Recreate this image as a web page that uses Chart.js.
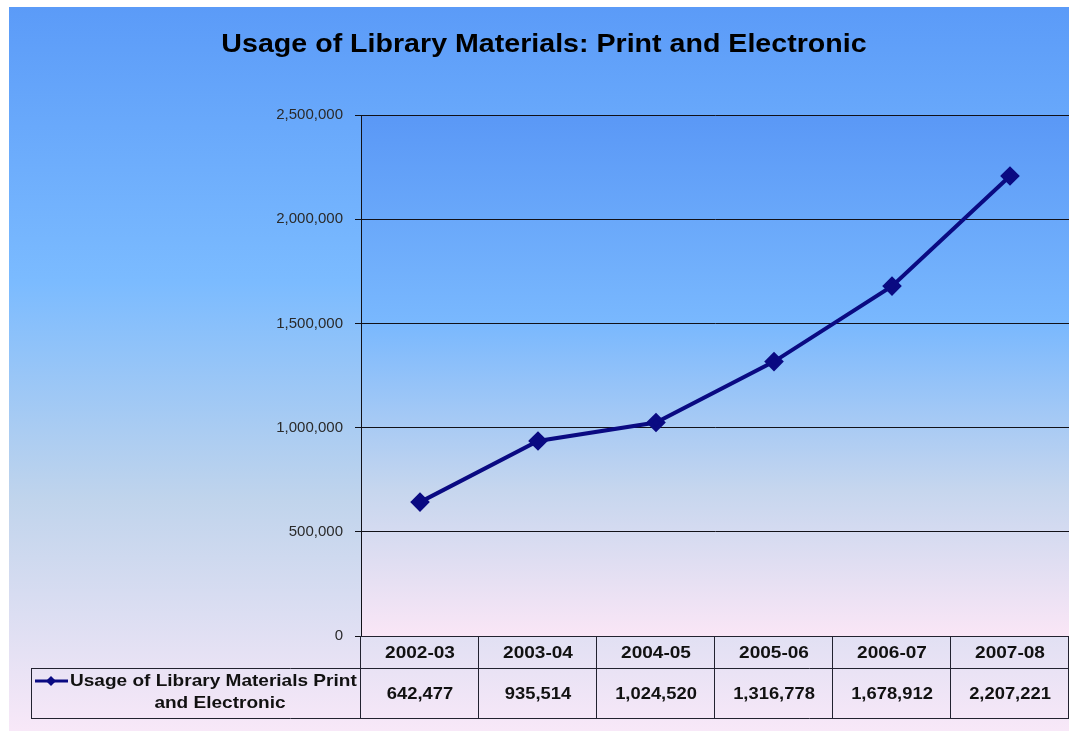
<!DOCTYPE html>
<html>
<head>
<meta charset="utf-8">
<title>Usage of Library Materials</title>
<script src="https://cdn.jsdelivr.net/npm/chart.js@4"></script>
<style>
  html, body { margin: 0; padding: 0; background: #fff; overflow: hidden; }
  #wrap { width: 1069px; height: 731px; position: relative; }
  canvas { display: block; }
</style>
</head>
<body>
<div id="wrap"><canvas id="usageChart"></canvas></div>
<script>
// data
const years = ['2002-03', '2003-04', '2004-05', '2005-06', '2006-07', '2007-08'];
const usage = [642477, 935514, 1024520, 1316778, 1678912, 2207221];
const seriesName = 'Usage of Library Materials Print and Electronic';
const legendLines = ['Usage of Library Materials Print', 'and Electronic'];
const chartTitle = 'Usage of Library Materials: Print and Electronic';

const navy = '#0A0A82';
const fmt = v => v.toLocaleString('en-US');
const FONT = '"Liberation Sans", Arial, sans-serif';

// text a bit wider than normal, like the original picture
function wideText(ctx, txt, x, y, sx) {
    ctx.save();
    ctx.translate(x, y);
    ctx.scale(sx, 1);
    ctx.fillText(txt, 0, 0);
    ctx.restore();
}

// background + plot area gradients
const bgPlugin = {
    id: 'bg',
    beforeDraw(chart) {
        const ctx = chart.ctx;
        const a = chart.chartArea;
        ctx.save();
        let g = ctx.createLinearGradient(0, 7, 0, 731);
        g.addColorStop(0, '#5B9BF8');
        g.addColorStop(0.38, '#7BBBFF');
        g.addColorStop(0.68, '#C0D4EC');
        g.addColorStop(1, '#F8E8F8');
        ctx.fillStyle = g;
        ctx.fillRect(9, 7, 1060, 724);
        g = ctx.createLinearGradient(0, a.top, 0, a.bottom);
        g.addColorStop(0, '#5A98F6');
        g.addColorStop(0.4, '#79B8FE');
        g.addColorStop(0.72, '#C6D6EE');
        g.addColorStop(1, '#FAE6F6');
        ctx.fillStyle = g;
        ctx.fillRect(a.left, a.top, a.right - a.left, a.bottom - a.top);
        // title
        ctx.fillStyle = '#000';
        ctx.font = 'bold 26px ' + FONT;
        ctx.textAlign = 'center';
        ctx.textBaseline = 'middle';
        wideText(ctx, chartTitle, 544, 45, 1.1);
        ctx.restore();
    }
};

// data table under the plot, columns taken from the x scale
const tablePlugin = {
    id: 'dataTable',
    afterDraw(chart) {
        const ctx = chart.ctx;
        const x = chart.scales.x;
        const a = chart.chartArea;
        const colW = (a.right - a.left) / years.length;
        const top = a.bottom, mid = a.bottom + 32, bot = a.bottom + 82;
        const legLeft = 31;
        ctx.save();
        ctx.strokeStyle = '#222230';
        ctx.lineWidth = 1;
        ctx.beginPath();
        ctx.moveTo(a.left, top + 0.5); ctx.lineTo(a.right, top + 0.5);
        ctx.moveTo(legLeft, mid + 0.5); ctx.lineTo(a.right, mid + 0.5);
        ctx.moveTo(legLeft, bot + 0.5); ctx.lineTo(a.right, bot + 0.5);
        ctx.moveTo(legLeft + 0.5, mid); ctx.lineTo(legLeft + 0.5, bot);
        for (let i = 0; i <= years.length; i++) {
            const cx = Math.round(a.left + i * colW) - 0.5;
            ctx.moveTo(cx, top); ctx.lineTo(cx, bot);
        }
        ctx.stroke();

        ctx.fillStyle = '#111';
        ctx.font = 'bold 17px ' + FONT;
        ctx.textAlign = 'center';
        ctx.textBaseline = 'middle';
        years.forEach((y, i) => {
            const cx = x.getPixelForValue(i);
            wideText(ctx, y, cx, (top + mid) / 2 + 1, 1.12);
            wideText(ctx, fmt(usage[i]), cx, (mid + bot) / 2 + 1, 1.08);
        });

        // legend key
        const ky = mid + 13;
        ctx.strokeStyle = navy;
        ctx.lineWidth = 3;
        ctx.beginPath();
        ctx.moveTo(35, ky); ctx.lineTo(68, ky);
        ctx.stroke();
        ctx.fillStyle = navy;
        ctx.beginPath();
        ctx.moveTo(51, ky - 5); ctx.lineTo(56, ky); ctx.lineTo(51, ky + 5); ctx.lineTo(46, ky);
        ctx.closePath();
        ctx.fill();
        ctx.fillStyle = '#111';
        ctx.font = 'bold 17px ' + FONT;
        ctx.textAlign = 'left';
        wideText(ctx, legendLines[0], 70, ky, 1.12);
        ctx.textAlign = 'center';
        wideText(ctx, legendLines[1], 220, ky + 22, 1.12);
        ctx.restore();
    }
};

new Chart(document.getElementById('usageChart'), {
    type: 'line',
    data: {
        labels: years,
        datasets: [{
            label: seriesName,
            data: usage,
            borderColor: navy,
            backgroundColor: navy,
            borderWidth: 4,
            pointStyle: 'rectRot',
            pointRadius: 7,
            pointHoverRadius: 7,
            tension: 0
        }]
    },
    options: {
        responsive: true,
        maintainAspectRatio: false,
        animation: false,
        layout: { autoPadding: false, padding: { top: 115, right: 0, left: 0, bottom: 0 } },
        scales: {
            x: {
                offset: true,
                ticks: { display: false },
                grid: { display: false },
                border: { display: false },
                afterFit: s => { s.height = 95; s.paddingLeft = 0; s.paddingRight = 0; }
            },
            y: {
                min: 0,
                max: 2500000,
                ticks: {
                    stepSize: 500000,
                    color: '#2a2a2a',
                    padding: 12,
                    font: { family: FONT, size: 15 },
                    callback: v => fmt(v)
                },
                grid: { color: '#111118', lineWidth: 1, tickLength: 6 },
                border: { display: true, color: '#111118', width: 1 },
                afterFit: s => { s.width = 361; }
            }
        },
        plugins: {
            legend: { display: false },
            title: { display: false },
            tooltip: { enabled: false }
        }
    },
    plugins: [bgPlugin, tablePlugin]
});
</script>
</body>
</html>
